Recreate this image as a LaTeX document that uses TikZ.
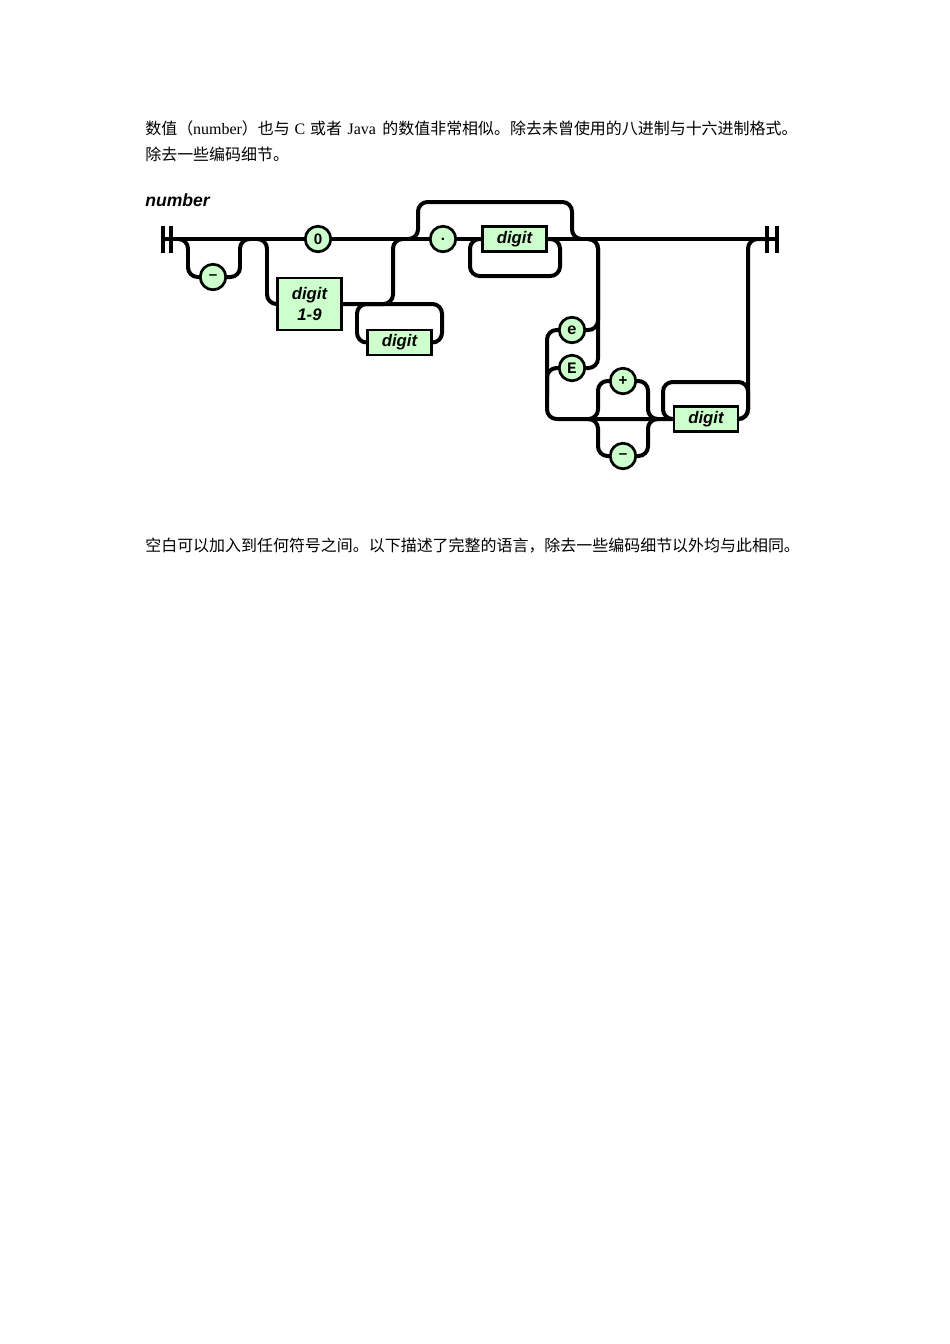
\documentclass[tikz,border=0pt]{standalone}
\usepackage{fontspec}
\setmainfont{Liberation Serif}
\newfontfamily\cjk{Noto Sans CJK SC}
\newfontfamily\railsans{Liberation Sans}
\newfontfamily\railmono{Liberation Mono}
\usetikzlibrary{positioning, calc, backgrounds}
\definecolor{termgreen}{RGB}{204,255,204}

\begin{document}
\begin{tikzpicture}[x=0.6263pt, y=-0.6263pt,
    rail/.style={line width=2.5pt, rounded corners=6pt},
    bar/.style={line width=2.5pt},
    term/.style={circle, draw, fill=termgreen, line width=1.7pt, minimum size=16pt, inner sep=0pt,
        font=\railsans\bfseries\fontsize{9.5}{10}\selectfont},
    nonterm/.style={rectangle, draw, fill=termgreen, line width=1.7pt, minimum width=40pt,
        minimum height=15.6pt, inner sep=0pt, align=center,
        font=\railsans\bfseries\itshape\fontsize{10.5}{13}\selectfont}]
        \useasboundingbox (0,0) rectangle (950,1344);

        % Text above
        \node[anchor=base west, inner sep=0pt, font=\fontsize{10}{12}\selectfont] (line1) at (145,134)
            {{\cjk 数值（}number{\cjk ）也与}\hspace{0.3em}C\hspace{0.3em}{\cjk 或者}\hspace{0.35em}Java\hspace{0.4em}{\cjk 的数值非常相似。除去未曾使用的八进制与十六进制格式。}};
        \node[anchor=base west, inner sep=0pt, font=\fontsize{10}{12}\selectfont] (line2) at (145,160)
            {\cjk 除去一些编码细节。};

        % Title
        \node[anchor=west, inner sep=0pt, font=\railsans\bfseries\itshape\fontsize{11}{12}\selectfont] (title) at (145,200) {number};

        % Ends of the rail
        \coordinate (startL) at (163,239);
        \coordinate (startR) at (171,239);
        \coordinate (endL) at (767,239);
        \coordinate (endR) at (777,239);
        \draw[bar] ($(startL)+(0,-13)$) -- ($(startL)+(0,14)$);
        \draw[bar] ($(startR)+(0,-13)$) -- ($(startR)+(0,14)$);
        \draw[bar] ($(endL)+(0,-13)$) -- ($(endL)+(0,14)$);
        \draw[bar] ($(endR)+(0,-13)$) -- ($(endR)+(0,14)$);

        % Integer part
        \node[term] (minus1) at (213,277) {–};
        \node[term] (zero) at (318,239) {0};
        \node[nonterm, minimum height=32.6pt] (d19) at (309.5,304) {digit\\1-9};
        \node[nonterm] (dint) at (399.5,342.5) {digit};

        % Fraction
        \node[term] (dot) at (443,239) {.};
        \node[nonterm] (dfrac) at (514.5,239) {digit};

        % Exponent
        \node[term, font=\railmono\bfseries\fontsize{10}{10}\selectfont] (e) at (572,330) {e};
        \node[term, font=\railmono\bfseries\fontsize{10}{10}\selectfont] (E) at (572,368) {E};
        \node[term] (plus) at (623,381) {+};
        \node[term] (minus2) at (623,456) {–};
        \node[nonterm] (dexp) at (706,419) {digit};

        % Rails behind the nodes
        \begin{scope}[on background layer]
            \fill[white] (0,0) rectangle (950,1344);
            \draw[rail] (startL) -- (zero) -- (dot) -- (dfrac) -- (endR);
            \draw[rail] (178,239) -- (188,239) |- (minus1) -| (240,239) -- (250,239);
            \draw[rail] (258,239) -- (267,239) |- (d19);
            \draw[rail] (d19) -| (393,239) -- (403,239);
            \draw[rail] (dint) -| (357,304) -| (442,342.5) -- (dint);
            \draw[rail] (408,239) -- (418,239) -- (418,202) -- (572,202) -- (572,239) -- (582,239);
            \draw[rail] (dfrac) -| (560,276) -| (470,239) -- (dfrac);
            \draw[rail] (588,239) -- (598,239) |- (e);
            \draw[rail] (588,239) -- (598,239) |- (E);
            \draw[rail] (e) -| (547,419) -- (dexp);
            \draw[rail] (E) -| (547,395);
            \draw[rail] (589,419) -- (598,419) |- (plus) -| (648,419) -- (658,419);
            \draw[rail] (589,419) -- (598,419) |- (minus2) -| (648,419) -- (658,419);
            \draw[rail] (dexp) -| (663,382) -| (748,419) -- (dexp);
            \draw[rail] (dexp) -| (748,239) -- (endL);
        \end{scope}

        % Text below
        \node[anchor=base west, inner sep=0pt, font=\fontsize{10}{12}\selectfont] (line3) at (145,551)
            {\cjk 空白可以加入到任何符号之间。以下描述了完整的语言，除去一些编码细节以外均与此相同。};
    \end{tikzpicture}
\end{document}
